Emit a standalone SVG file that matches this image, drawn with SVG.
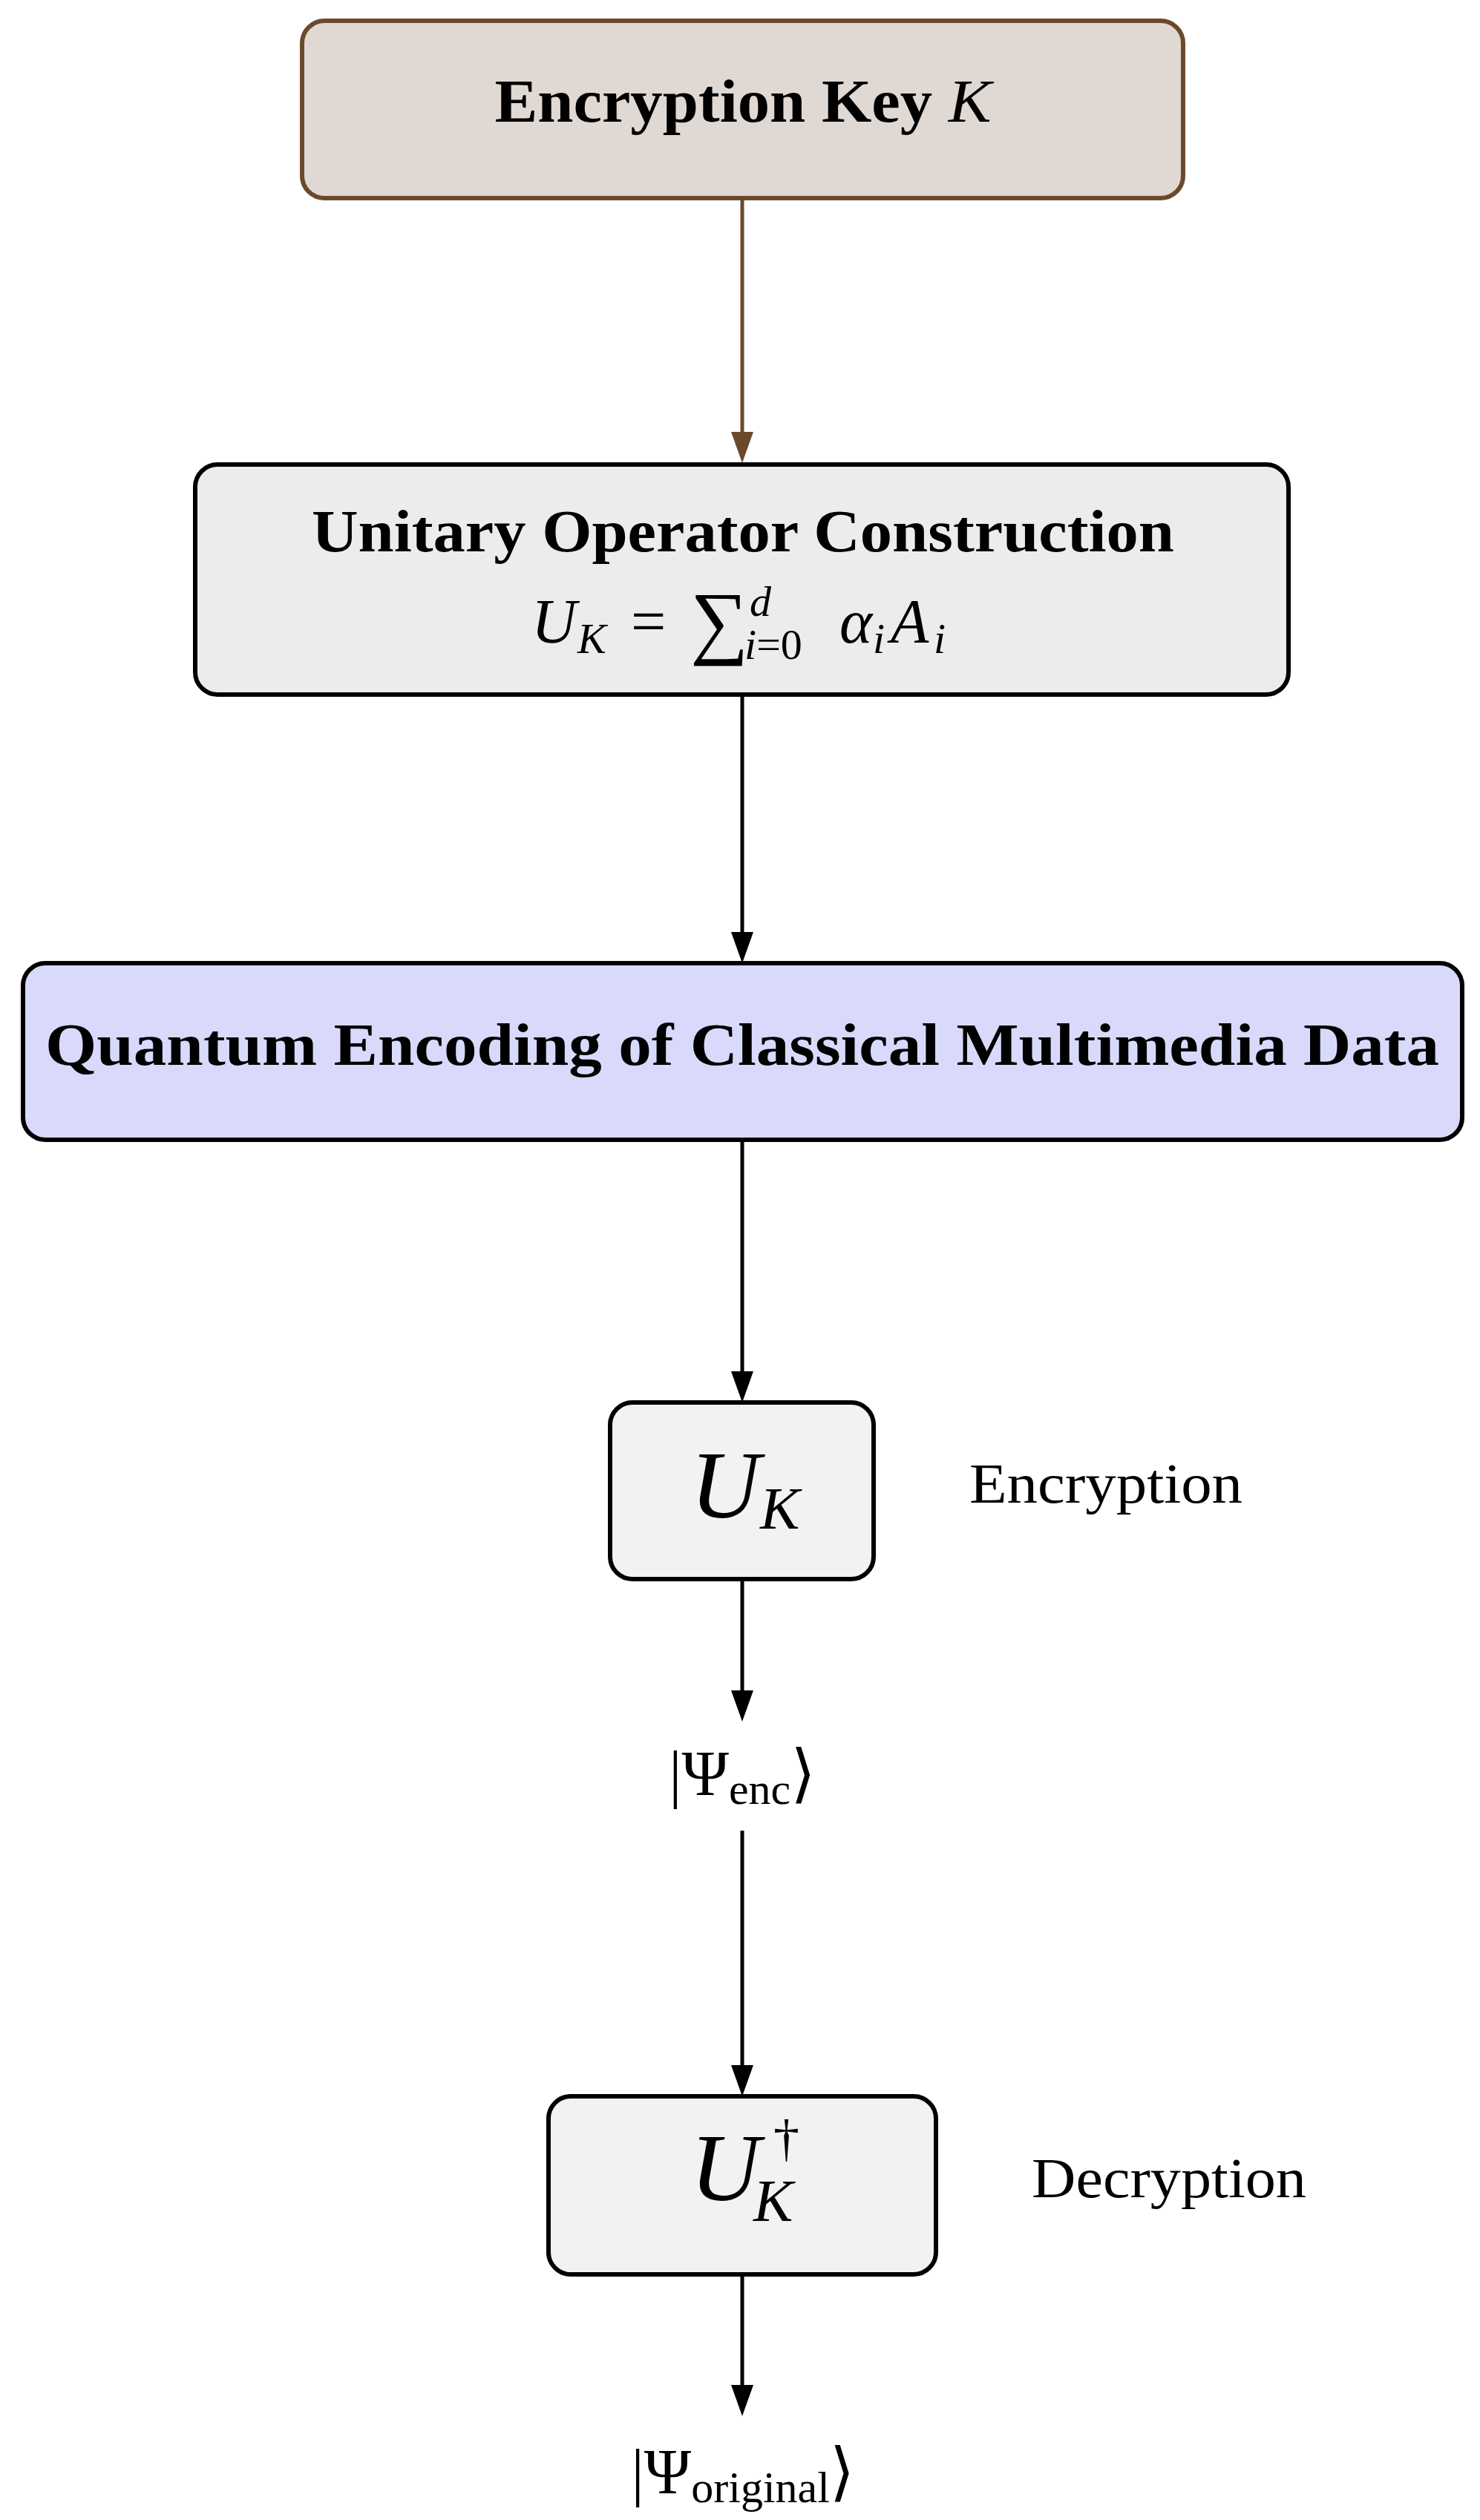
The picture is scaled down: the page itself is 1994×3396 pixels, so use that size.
<svg xmlns="http://www.w3.org/2000/svg" width="1994" height="3396" viewBox="0 0 1994 3396">
<style>
.t{font-family:"Liberation Serif","DejaVu Serif",serif;fill:#000}
.b{font-weight:bold}
.i{font-style:italic}
.box{stroke:#000;stroke-width:6}
.c{stroke:#000;stroke-width:5;fill:none}
</style>
<g id="connectors">
<line x1="1000" y1="267" x2="1000" y2="600" stroke="#6b4a2c" stroke-width="5"/>
<path d="M985,582 L1000,624 L1015,582 z" fill="#6b4a2c"/>
<line class="c" x1="1000" y1="936" x2="1000" y2="1280"/>
<path d="M985,1256 L1000,1298 L1015,1256 z"/>
<line class="c" x1="1000" y1="1536" x2="1000" y2="1870"/>
<path d="M985,1848 L1000,1890 L1015,1848 z"/>
<line class="c" x1="1000" y1="2128" x2="1000" y2="2300"/>
<path d="M985,2278 L1000,2320 L1015,2278 z"/>
<line class="c" x1="1000" y1="2467" x2="1000" y2="2805"/>
<path d="M985,2783 L1000,2825 L1015,2783 z"/>
<line class="c" x1="1000" y1="3065" x2="1000" y2="3236"/>
<path d="M985,3214 L1000,3256 L1015,3214 z"/>
</g>
<g id="key">
<rect x="407" y="28" width="1187" height="239" rx="30" fill="#e0d8d2" stroke="#6b4a2c" stroke-width="6"/>
<text class="t b" x="1001" y="164" font-size="82" text-anchor="middle" textLength="669" lengthAdjust="spacingAndGlyphs">Encryption Key <tspan class="i" font-weight="normal">K</tspan></text>
</g>
<g id="unitary">
<rect class="box" x="263" y="626" width="1473" height="310" rx="30" fill="#ececec"/>
<text class="t b" x="1001" y="743" font-size="80" text-anchor="middle" textLength="1162" lengthAdjust="spacingAndGlyphs">Unitary Operator Construction</text>
<text class="t i" x="716" y="866" font-size="84">U</text>
<text class="t i" x="778" y="880" font-size="58">K</text>
<text class="t" x="850" y="866" font-size="84">=</text>
<text class="t" x="930" y="874" font-size="110">∑</text>
<text class="t" x="1003" y="888" font-size="58"><tspan class="i">i</tspan>=0</text>
<text class="t i" x="1010" y="830" font-size="58">d</text>
<text class="t i" x="1131" y="866" font-size="84">α</text>
<text class="t i" x="1176" y="880" font-size="58">i</text>
<text class="t i" x="1200" y="866" font-size="84">A</text>
<text class="t i" x="1258" y="880" font-size="58">i</text>
</g>
<g id="encoding">
<rect class="box" x="31" y="1298" width="1939" height="238" rx="30" fill="#d9d9fb"/>
<text class="t b" x="1000" y="1435" font-size="80" text-anchor="middle" textLength="1878" lengthAdjust="spacingAndGlyphs">Quantum Encoding of Classical Multimedia Data</text>
</g>
<g id="uk">
<rect class="box" x="822" y="1890" width="355" height="238" rx="30" fill="#f2f2f2"/>
<text class="t i" x="930" y="2045" font-size="130">U<tspan font-size="80" dy="15">K</tspan></text>
<text class="t" x="1306" y="2025" font-size="76" textLength="368" lengthAdjust="spacingAndGlyphs">Encryption</text>
</g>
<g id="psienc">
<text class="t" x="1000" y="2419" font-size="86" text-anchor="middle">|Ψ<tspan font-size="60" dy="12">enc</tspan><tspan dy="-12">⟩</tspan></text>
</g>
<g id="ukdag">
<rect class="box" x="739" y="2825" width="522" height="240" rx="30" fill="#f2f2f2"/>
<text class="t i" x="930" y="2965" font-size="130">U</text>
<text class="t i" x="1015" y="2993" font-size="80">K</text>
<text class="t" x="1042" y="2905" font-size="70">†</text>
<text class="t" x="1390" y="2961" font-size="76" textLength="370" lengthAdjust="spacingAndGlyphs">Decryption</text>
</g>
<g id="psiorig">
<text class="t" x="1001" y="3360" font-size="86" text-anchor="middle">|Ψ<tspan font-size="60" dy="12">original</tspan><tspan dy="-12">⟩</tspan></text>
</g>
</svg>
